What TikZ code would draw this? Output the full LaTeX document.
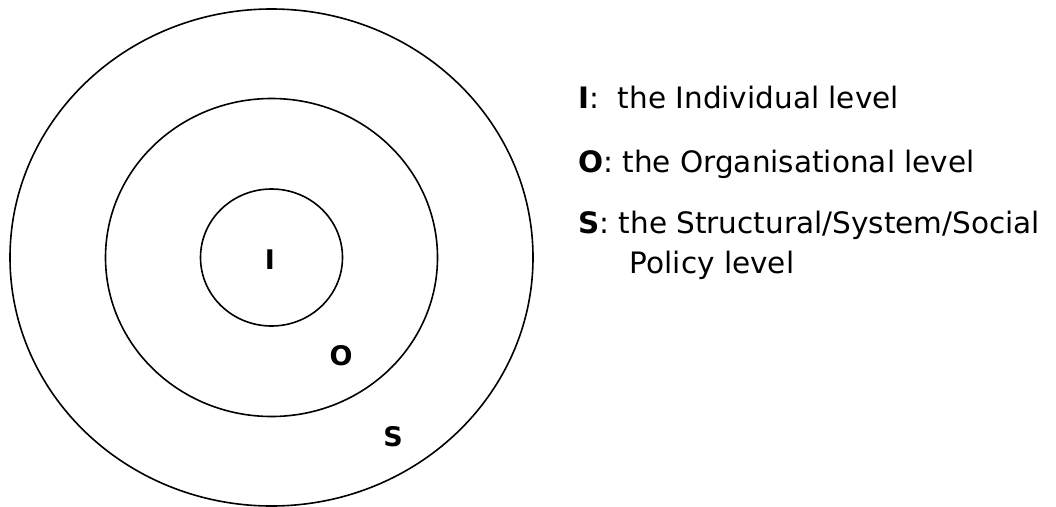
\documentclass[tikz,border=0pt]{standalone}
\usepackage{fontspec}
\setmainfont{DejaVu Sans}
\usetikzlibrary{positioning}
\tikzset{
  ring/.style={line width=1.6pt},
  level label/.style={font=\fontsize{27}{32}\selectfont\bfseries, inner sep=0pt},
  legend/.style={font=\fontsize{29.5}{40}\selectfont, anchor=west, align=left, inner sep=0pt},
}

\begin{document}
\begin{tikzpicture}[x=1pt,y=-1pt]
  \useasboundingbox (0,0) rectangle (1056,506);

  % Rings
  \coordinate (c) at (271.5,257.5);
  \draw[ring] (c) ellipse [x radius=261.5, y radius=248.5];
  \draw[ring] (c) ellipse [x radius=166, y radius=159];
  \draw[ring] (c) ellipse [x radius=71, y radius=68.5];

  % Level letters
  \node[level label] (li) at (270,260) {I};
  \node[level label] (lo) at (341,356) {O};
  \node[level label] (ls) at (393,437) {S};

  % Legend
  \node[legend] (ti) at (578,98) {\textbf{I}:\ \ the Individual level};
  \node[legend] (to) at (578,164) {\textbf{O}: the Organisational level};
  \node[legend, anchor=north west] (ts) at (578,211)
    {\textbf{S}: the Structural/System/Social\\\hspace*{1.75em}Policy level};
\end{tikzpicture}
\end{document}
